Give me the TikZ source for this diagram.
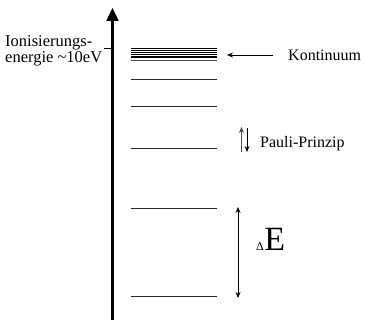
\documentclass[tikz,border=0pt]{standalone}
\usepackage{fontspec}
\setmainfont{Liberation Serif}
\usetikzlibrary{arrows.meta}
\tikzset{
  lbl/.style={inner sep=0pt, anchor=base west, font=\fontsize{16}{16}\selectfont},
  level/.style={line width=1pt, black!85},
  cont/.style={line width=1pt, black},
  axisline/.style={line width=2.4pt, -{Triangle[length=13pt,width=12pt]}},
  thinarrow/.style={line width=0.8pt, -{Stealth[length=6pt,width=5pt]}},
  dblarrow/.style={line width=0.8pt, {Stealth[length=6pt,width=5pt]}-{Stealth[length=6pt,width=5pt]}}
}
\begin{document}
\begin{tikzpicture}[x=1pt,y=-1pt]
\useasboundingbox (0,0) rectangle (365,320);
% axis
\coordinate (axB) at (112.5,321);
\coordinate (axT) at (112.5,8);
\draw[axisline] (axB) -- (axT);
% ionisation tick and label
\coordinate (tickL) at (104,48);
\coordinate (tickR) at (112.5,48);
\draw[line width=0.7pt] (tickL) -- (tickR);
\node[lbl, font=\fontsize{16.5}{16.5}\selectfont] (ion1) at (5,47) {Ionisierungs-};
\node[lbl, font=\fontsize{16.5}{16.5}\selectfont] (ion2) at (5,63) {energie \textasciitilde10eV};
% continuum bundle
\foreach \y [count=\i] in {49,50.8,52.6,54.4,56.2,58}{
  \coordinate (cL\i) at (131,\y);
  \coordinate (cR\i) at (217,\y);
  \draw[cont] (cL\i) -- (cR\i);
}
\coordinate (cL8) at (131,60.5);
\coordinate (cR8) at (217,60.5);
\draw[line width=0.6pt, black!70] (cL8) -- (cR8);
% levels
\foreach \y [count=\i] in {80,107,149,209,297}{
  \coordinate (lL\i) at (131,\y);
  \coordinate (lR\i) at (217,\y);
  \draw[level] (lL\i) -- (lR\i);
}
% Kontinuum
\node[lbl] (kont) at (288,61) {Kontinuum};
\coordinate (kA) at (273,55);
\coordinate (kB) at (227,55);
\draw[thinarrow] (kA) -- (kB);
% Pauli
\coordinate (pU0) at (241.5,152);
\coordinate (pU1) at (241.5,127);
\coordinate (pD0) at (247,128);
\coordinate (pD1) at (247,152);
\draw[thinarrow, black!70] (pU0) -- (pU1);
\draw[thinarrow] (pD0) -- (pD1);
\node[lbl] (pauli) at (260,147.5) {Pauli-Prinzip};
% Delta E
\coordinate (dT) at (238,207);
\coordinate (dB) at (238,298);
\draw[dblarrow] (dT) -- (dB);
\node[lbl, font=\fontsize{12}{12}\selectfont] (dl) at (256,251) {\symbol{"0394}};
\node[lbl, font=\fontsize{34}{34}\selectfont] (dE) at (dl.base east) {E};
\end{tikzpicture}
\end{document}
